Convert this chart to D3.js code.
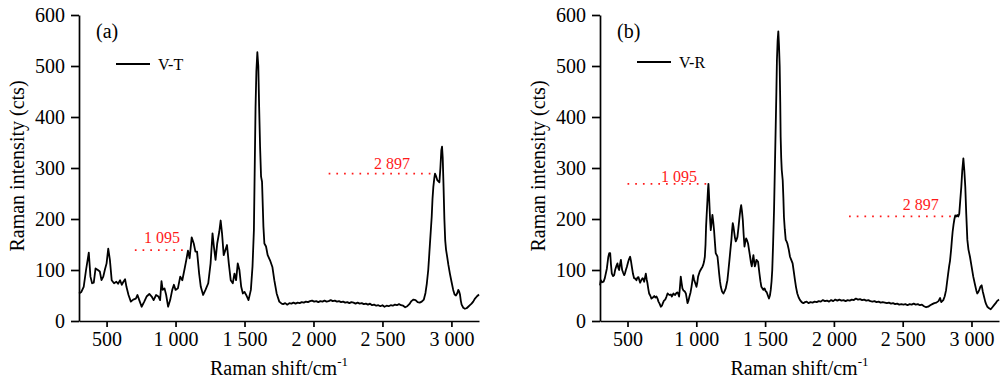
<!DOCTYPE html>
<html><head><meta charset="utf-8">
<script src="https://cdn.jsdelivr.net/npm/d3@7/dist/d3.min.js"></script>
<style>body{margin:0;background:#fff}svg{display:block}</style>
</head><body><svg id="c" width="1000" height="382"></svg>
<script>
// ---- data ----
const xTicks = [500, 1000, 1500, 2000, 2500, 3000];
const yTicks = [0, 100, 200, 300, 400, 500, 600];
const panelLabels = ["(a)", "(b)"];
const seriesNames = ["V-T", "V-R"];

// [Raman shift (cm-1), intensity (cts)]
const spectrumVT = [
[300,54],[317,57],[334,67],[351,100],[371,134],[383,87],[395,74],[407,75],[420,103],[437,100],[451,97],[463,80],[476,87],[488,101],[500,113],[512,142],[524,120],[537,80],[554,74],[571,77],[583,73],[598,80],[610,71],[622,77],[634,82],[644,67],[659,51],[676,38],[693,42],[712,44],[724,51],[737,41],[754,28],[773,38],[790,48],[810,53],[827,48],[841,41],[859,51],[876,48],[888,41],[898,78],[907,61],[920,64],[932,51],[946,28],[961,41],[976,61],[988,71],[1000,61],[1017,64],[1034,87],[1049,80],[1066,103],[1078,120],[1090,138],[1102,123],[1117,164],[1132,152],[1144,136],[1156,136],[1171,93],[1183,67],[1200,51],[1217,61],[1237,74],[1254,113],[1268,172],[1278,146],[1290,120],[1302,152],[1317,175],[1327,197],[1337,172],[1349,129],[1361,139],[1373,149],[1386,113],[1400,80],[1415,74],[1427,93],[1439,80],[1451,113],[1463,100],[1476,67],[1488,54],[1500,57],[1512,51],[1529,41],[1546,61],[1558,107],[1568,178],[1574,300],[1580,420],[1586,490],[1593,527],[1600,500],[1606,420],[1613,340],[1620,283],[1627,273],[1637,185],[1644,152],[1656,146],[1668,129],[1685,119],[1702,106],[1716,80],[1733,54],[1752,38],[1769,34],
[1780,33],[1795,35],[1810,32],[1825,35],[1840,34],[1855,36],[1870,34],[1885,36],[1900,35],[1915,37],[1930,36],[1945,38],[1960,37],[1975,39],[1990,40],[2005,38],[2020,39],[2035,37],[2050,39],[2065,38],[2080,40],[2095,38],[2110,39],[2125,41],[2140,39],[2155,40],[2170,38],[2185,39],[2200,37],[2215,38],[2230,36],[2245,37],[2260,35],[2275,37],[2290,36],[2305,34],[2320,36],[2335,34],[2350,35],[2365,33],[2380,34],[2395,32],[2410,34],[2425,31],[2440,32],[2455,30],[2470,31],[2485,29],[2500,31],[2515,28],[2530,30],[2545,29],[2560,31],[2575,30],[2590,32],[2605,31],[2620,33],[2635,31],[2650,30],[2665,27],[2680,29],[2695,33],[2710,39],[2725,42],[2740,41],[2755,37],[2770,36],[2785,38],[2800,42],[2812,55],[2822,74],[2832,100],[2840,133],[2850,175],[2857,204],[2863,240],[2869,263],[2876,280],[2881,289],[2890,283],[2898,276],[2906,274],[2913,272],[2920,300],[2927,335],[2932,342],[2937,320],[2943,263],[2949,200],[2955,158],[2961,140],[2968,128],[2978,110],[2989,93],[3000,78],[3013,61],[3023,52],[3033,50],[3043,55],[3050,61],[3056,58],[3062,52],[3068,40],[3074,32],[3086,26],[3098,24],[3110,25],[3122,28],[3134,31],[3146,34],[3158,38],[3171,44],[3184,48],[3200,52]
];

const spectrumVR = [
[300,70],[306,80],[316,76],[326,77],[335,84],[350,103],[360,125],[367,133],[374,133],[380,110],[386,93],[395,88],[403,90],[410,100],[418,107],[427,113],[433,104],[439,100],[446,112],[452,120],[457,108],[461,100],[468,95],[476,90],[482,94],[488,100],[495,106],[505,116],[512,122],[519,126],[525,118],[531,107],[540,92],[548,84],[556,83],[565,80],[572,85],[580,86],[586,80],[592,75],[600,80],[609,84],[615,82],[621,77],[627,85],[633,93],[639,82],[645,74],[651,63],[657,54],[665,50],[674,44],[684,46],[694,49],[702,46],[711,48],[718,44],[725,38],[733,34],[742,28],[750,30],[757,35],[765,40],[774,42],[782,47],[791,54],[799,52],[807,51],[815,52],[822,48],[828,51],[834,54],[840,52],[846,51],[855,55],[863,56],[869,53],[875,48],[881,66],[887,87],[893,75],[899,64],[906,60],[912,59],[918,57],[924,54],[930,45],[936,35],[943,40],[950,48],[958,56],[965,67],[971,78],[977,90],[983,82],[989,77],[995,72],[1001,67],[1007,75],[1013,87],[1019,92],[1025,97],[1031,100],[1037,103],[1044,106],[1050,110],[1056,116],[1062,126],[1067,150],[1071,185],[1076,212],[1081,237],[1085,258],[1088,269],[1091,255],[1095,231],[1100,200],[1105,178],[1111,193],[1117,208],[1123,195],[1129,178],[1135,155],[1141,133],[1147,130],[1154,126],[1160,110],[1166,93],[1172,78],[1178,67],[1187,58],[1197,54],[1205,58],[1214,64],[1220,72],[1226,80],[1233,98],[1241,120],[1248,140],[1255,159],[1260,178],[1265,192],[1270,185],[1275,175],[1281,163],[1287,156],[1293,160],[1299,165],[1306,182],[1313,201],[1320,218],[1326,227],[1332,215],[1338,198],[1344,170],[1350,146],[1356,155],[1362,162],[1369,158],[1376,152],[1383,140],[1391,126],[1397,115],[1403,107],[1409,118],[1415,129],[1420,118],[1425,107],[1431,112],[1437,120],[1443,118],[1449,116],[1454,104],[1459,93],[1466,78],[1473,67],[1480,64],[1488,61],[1496,64],[1505,58],[1511,57],[1520,50],[1528,44],[1535,50],[1541,61],[1547,78],[1552,100],[1558,150],[1565,218],[1571,300],[1577,381],[1582,450],[1586,512],[1591,550],[1596,568],[1601,540],[1606,499],[1610,430],[1613,361],[1617,320],[1621,296],[1628,276],[1633,240],[1637,204],[1643,180],[1650,159],[1656,156],[1662,152],[1672,140],[1681,126],[1690,120],[1700,113],[1708,98],[1717,80],[1725,66],[1734,54],[1744,46],[1754,41],[1766,37],[1778,35],
[1790,37],[1802,38],[1815,35],[1830,37],[1845,36],[1860,38],[1875,37],[1890,39],[1905,38],[1920,41],[1935,39],[1950,40],[1965,38],[1980,41],[1995,39],[2010,42],[2025,40],[2040,42],[2055,40],[2070,41],[2085,39],[2100,41],[2115,40],[2130,42],[2145,41],[2160,44],[2175,42],[2190,43],[2205,41],[2220,42],[2235,40],[2250,41],[2265,39],[2280,38],[2295,39],[2310,37],[2325,38],[2340,36],[2355,37],[2370,36],[2385,35],[2400,36],[2415,34],[2430,35],[2445,33],[2460,34],[2475,32],[2490,33],[2505,32],[2520,33],[2535,31],[2550,33],[2565,32],[2580,34],[2595,32],[2610,33],[2625,31],[2640,32],[2655,29],[2670,27],[2685,28],[2700,31],[2715,33],[2730,35],[2745,36],[2760,39],[2772,45],[2780,37],[2795,41],[2805,48],[2815,60],[2822,75],[2830,92],[2838,108],[2844,118],[2852,140],[2858,160],[2863,175],[2870,190],[2876,200],[2882,207],[2890,205],[2897,208],[2904,205],[2911,210],[2918,235],[2926,263],[2933,295],[2941,319],[2948,295],[2955,263],[2962,210],[2970,159],[2978,140],[2989,126],[3000,108],[3013,87],[3025,72],[3035,60],[3042,54],[3050,57],[3058,62],[3066,68],[3074,70],[3082,58],[3091,48],[3100,38],[3108,32],[3115,28],[3128,25],[3140,23],[3152,27],[3164,31],[3176,35],[3186,39],[3195,41],[3200,42]
];

// annotations: [label, lineStart, lineEnd, lineY, labelX, labelY]
const annotationsVT = [["1 095", 705, 1090, 139, 902, 153], ["2 897", 2110, 2880, 289, 2569, 298]];
const annotationsVR = [["1 095", 500, 1088, 269, 874, 273], ["2 897", 2110, 2850, 205, 2631, 218]];

// ---- drawing ----
const svg = d3.select("#c");
const FONT = "'Liberation Serif','Times New Roman',serif";
const fmt = d3.formatLocale({decimal: ".", thousands: " ", grouping: [3], currency: ["", ""]}).format(",d");

const panels = [
  {left: 79, right: 479, data: spectrumVT, ann: annotationsVT, label: panelLabels[0], name: seriesNames[0], legY: 64},
  {left: 600, right: 999, data: spectrumVR, ann: annotationsVR, label: panelLabels[1], name: seriesNames[1], legY: 62}
];
const plotTop = 15, plotBottom = 321;

panels.forEach(p => {
  const x = d3.scaleLinear().domain([300, 3200]).range([p.left, p.right]);
  const y = d3.scaleLinear().domain([0, 600]).range([plotBottom, plotTop]);
  const g = svg.append("g");

  const xa = g.append("g").attr("transform", `translate(0,${plotBottom})`)
    .call(d3.axisBottom(x).tickValues(xTicks).tickFormat(fmt).tickSize(6).tickSizeOuter(0).tickPadding(5));
  const ya = g.append("g").attr("transform", `translate(${p.left},0)`)
    .call(d3.axisLeft(y).tickValues(yTicks).tickSize(8).tickSizeOuter(0).tickPadding(6));
  [xa, ya].forEach(a => {
    a.selectAll("path,line").attr("stroke", "#000").attr("stroke-width", 1.7);
    a.selectAll("text").attr("font-family", FONT).attr("font-size", 20).attr("fill", "#000");
  });

  // spectrum
  g.append("path").datum(p.data)
    .attr("d", d3.line().x(d => x(d[0])).y(d => y(d[1])))
    .attr("fill", "none").attr("stroke", "#000").attr("stroke-width", 1.8).attr("stroke-linejoin", "round");

  // annotations
  p.ann.forEach(a => {
    g.append("line").attr("x1", x(a[1])).attr("x2", x(a[2])).attr("y1", y(a[3])).attr("y2", y(a[3]))
      .attr("stroke", "#ff1a1a").attr("stroke-width", 1.7).attr("stroke-dasharray", "1.7,6");
    g.append("text").attr("x", x(a[4])).attr("y", y(a[5])).attr("text-anchor", "middle")
      .attr("font-family", FONT).attr("font-size", 16).attr("fill", "#ff1a1a").text(a[0]);
  });

  // panel label
  g.append("text").attr("x", p.left + 17).attr("y", 38).attr("font-family", FONT).attr("font-size", 20).text(p.label);

  // legend
  g.append("line").attr("x1", p.left + 37).attr("x2", p.left + 71).attr("y1", p.legY).attr("y2", p.legY)
    .attr("stroke", "#000").attr("stroke-width", 1.8);
  g.append("text").attr("x", p.left + 79).attr("y", p.legY + 6).attr("font-family", FONT).attr("font-size", 16).text(p.name);

  // axis titles
  g.append("text").attr("transform", `translate(${p.left - 55},${(plotTop + plotBottom) / 2 - 2}) rotate(-90)`)
    .attr("text-anchor", "middle").attr("font-family", FONT).attr("font-size", 20).text("Raman intensity (cts)");
  const xt = g.append("text").attr("x", (p.left + p.right) / 2).attr("y", 375).attr("text-anchor", "middle")
    .attr("font-family", FONT).attr("font-size", 20);
  xt.append("tspan").text("Raman shift/cm");
  xt.append("tspan").attr("font-size", 13).attr("dy", -9).text("-1");
});
</script></body></html>
